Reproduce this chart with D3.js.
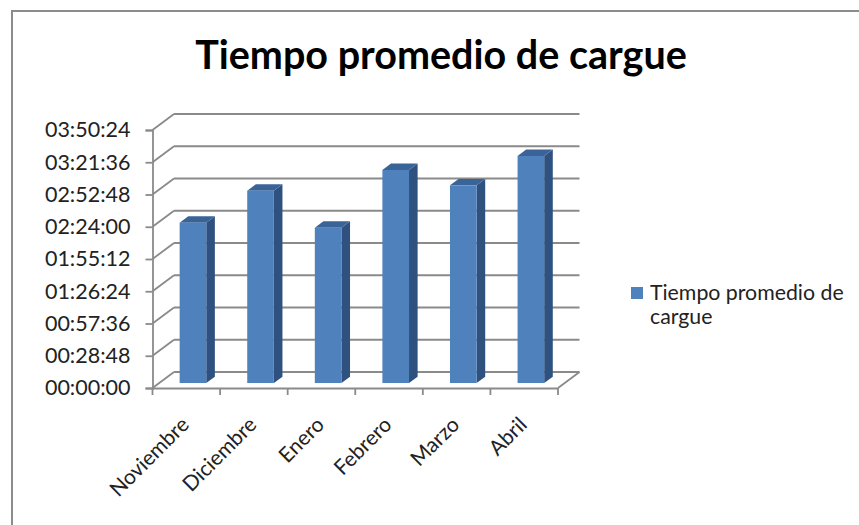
<!DOCTYPE html>
<html>
<head>
<meta charset="utf-8">
<script src="https://cdn.jsdelivr.net/npm/d3@7"></script>
<style>
  html, body { margin: 0; padding: 0; background: #fff; }
  svg { display: block; }
</style>
</head>
<body>
<svg id="chart" width="859" height="525"></svg>
<script>
// ---- data ----
const title = "Tiempo promedio de cargue";
const seriesName = "Tiempo promedio de cargue";
const categories = ["Noviembre", "Diciembre", "Enero", "Febrero", "Marzo", "Abril"];
const values = ["02:23:10", "02:51:45", "02:18:40", "03:10:15", "02:56:35", "03:22:45"];
const yTickLabels = ["00:00:00", "00:28:48", "00:57:36", "01:26:24", "01:55:12",
                     "02:24:00", "02:52:48", "03:21:36", "03:50:24"];

const toSec = s => { const [h, m, x] = s.split(":").map(Number); return h * 3600 + m * 60 + x; };
const pad = n => String(n).padStart(2, "0");
const fmt = v => pad(Math.floor(v / 3600)) + ":" + pad(Math.floor(v % 3600 / 60)) + ":" + pad(Math.round(v % 60));

const data = categories.map((c, i) => ({ cat: c, v: toSec(values[i]) }));
const yTicks = yTickLabels.map(toSec);

// ---- layout ----
const svg = d3.select("#chart");
const FONT = "Lato, 'Open Sans', sans-serif";
const gridColor = "#8a8a8a";
const DX = 21.5, DY = -16;          // depth offset of back wall
const f0 = 0.31, f1 = 0.71;         // bar front/back depth fraction

// chart frame
svg.append("rect").attr("x", 12).attr("y", 11).attr("width", 870).attr("height", 540)
  .attr("fill", "#fff").attr("stroke", "#8c8c8c").attr("stroke-width", 2);

svg.append("text").attr("x", 441).attr("y", 69).attr("text-anchor", "middle")
  .attr("font-family", FONT).attr("font-weight", "bold").attr("font-size", 39.5)
  .attr("fill", "#000").text(title);

const x = d3.scaleBand().domain(categories).range([152.5, 558]).padding(0);
const y = d3.scaleLinear().domain([0, yTicks[yTicks.length - 1]]).range([388, 130]);

const g = svg.append("g");

// left wall diagonals + back wall gridlines
yTicks.forEach(t => {
  const yy = y(t);
  g.append("line").attr("x1", x.range()[0]).attr("y1", yy)
    .attr("x2", x.range()[0] + DX).attr("y2", yy + DY)
    .attr("stroke", gridColor).attr("stroke-width", 1.8);
  g.append("line").attr("x1", x.range()[0] + DX).attr("y1", yy + DY)
    .attr("x2", x.range()[1] + DX).attr("y2", yy + DY)
    .attr("stroke", gridColor).attr("stroke-width", 1.8);
});
// floor right edge
g.append("line").attr("x1", x.range()[1]).attr("y1", y(0))
  .attr("x2", x.range()[1] + DX).attr("y2", y(0) + DY)
  .attr("stroke", gridColor).attr("stroke-width", 1.8);

// y axis
const yAxis = d3.axisLeft(y).tickValues(yTicks).tickFormat(fmt).tickSize(7).tickPadding(15);
const ya = svg.append("g").attr("transform", `translate(${x.range()[0]},0)`).call(yAxis);
ya.select(".domain").attr("stroke", gridColor).attr("stroke-width", 1.8);
ya.selectAll(".tick line").attr("stroke", gridColor).attr("stroke-width", 1.8);
ya.selectAll(".tick text").attr("font-family", FONT).attr("font-size", 21.5).attr("fill", "#222");

// x axis (front floor edge) with boundary ticks
const xa = svg.append("g").attr("transform", `translate(0,${y(0)})`).call(d3.axisBottom(x).tickSize(0).tickFormat(""));
xa.select(".domain").attr("stroke", gridColor).attr("stroke-width", 1.8);
const bounds = categories.map(c => x(c)).concat([x.range()[1]]);
xa.selectAll(".bt").data(bounds).enter().append("line")
  .attr("x1", d => d).attr("x2", d => d).attr("y1", 0).attr("y2", 7)
  .attr("stroke", gridColor).attr("stroke-width", 1.8);
xa.selectAll(".xl").data(categories).enter().append("text")
  .attr("transform", d => `translate(${x(d) + x.bandwidth() / 2 + 4},${38}) rotate(-45)`)
  .attr("text-anchor", "end").attr("font-family", FONT).attr("font-size", 21).attr("fill", "#222")
  .text(d => d);

// bars
const bw = x.bandwidth() * 0.394;
const frontColor = "#4f81bd", topColor = "#3a6498", sideColor = "#2f5180";
data.forEach(d => {
  const xl = x(d.cat) + (x.bandwidth() - bw) / 2 + f0 * DX;
  const xr = xl + bw;
  const yt = y(d.v) + f0 * DY;
  const yb = y(0) + f0 * DY;
  const ddx = (f1 - f0) * DX, ddy = (f1 - f0) * DY;
  const bg = g.append("g");
  bg.append("path").attr("d", `M${xr},${yt}L${xr + ddx},${yt + ddy}L${xr + ddx},${yb + ddy}L${xr},${yb}Z`).attr("fill", sideColor);
  bg.append("path").attr("d", `M${xl},${yt}L${xl + ddx},${yt + ddy}L${xr + ddx},${yt + ddy}L${xr},${yt}Z`).attr("fill", topColor);
  bg.append("rect").attr("x", xl).attr("y", yt).attr("width", bw).attr("height", yb - yt).attr("fill", frontColor);
});

// legend
const lg = svg.append("g");
lg.append("rect").attr("x", 631).attr("y", 287).attr("width", 12).attr("height", 12).attr("fill", frontColor);
const lt = lg.append("text").attr("font-family", FONT).attr("font-size", 21.3).attr("fill", "#222");
lt.append("tspan").attr("x", 650).attr("y", 300).text("Tiempo promedio de");
lt.append("tspan").attr("x", 650).attr("y", 324).text("cargue");
</script>
</body>
</html>
